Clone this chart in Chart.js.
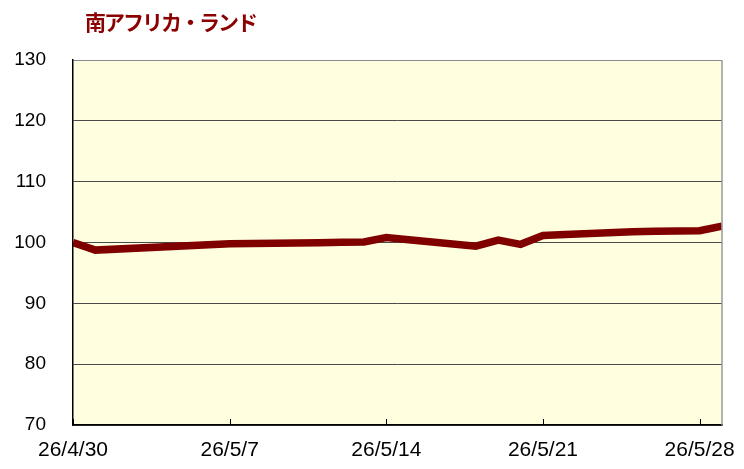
<!DOCTYPE html>
<html>
<head>
<meta charset="utf-8">
<script src="https://cdn.jsdelivr.net/npm/chart.js@4/dist/chart.umd.min.js"></script>
<style>
  html, body { margin: 0; padding: 0; background: #fff; }
  #wrap { position: relative; width: 744px; height: 469px; }
  #title {
    position: absolute; left: 85px; top: 10px;
    font: bold 21px "Noto Sans CJK JP", sans-serif;
    line-height: 22px; letter-spacing: -2px; color: #8b0000;
  }
</style>
</head>
<body>
<div id="wrap">
  <canvas id="chart" width="744" height="469"></canvas>
  <div id="title">南アフリカ・ランド</div>
</div>
<script>
// trading days and index values
const dates = [
  '2026-04-30', '2026-05-01', '2026-05-07', '2026-05-08', '2026-05-11',
  '2026-05-12', '2026-05-13', '2026-05-14', '2026-05-15', '2026-05-18',
  '2026-05-19', '2026-05-20', '2026-05-21', '2026-05-22', '2026-05-25',
  '2026-05-26', '2026-05-27', '2026-05-28', '2026-05-29'
];
const values = [
  100.0, 98.75, 99.8, 99.85, 99.95,
  100.05, 100.1, 100.8, 100.45, 99.4,
  100.4, 99.7, 101.15, 101.3, 101.75,
  101.85, 101.9, 101.95, 102.7
];
const tickLabels = ['26/4/30', '26/5/7', '26/5/14', '26/5/21', '26/5/28'];
const tickDays = [0, 7, 14, 21, 28];
const yTicks = [70, 80, 90, 100, 110, 120, 130];

const DAY = 86400000;
const start = Date.parse(dates[0]);
const points = dates.map((d, i) => ({ x: (Date.parse(d) - start) / DAY, y: values[i] }));

// yellow plot background, grey right edge, small inward ticks on the date axis
const plotFrame = {
  id: 'plotFrame',
  beforeDraw(chart) {
    const { ctx, chartArea: a } = chart;
    ctx.save();
    ctx.fillStyle = '#ffffe0';
    ctx.fillRect(a.left, a.top, a.right - a.left, a.bottom - a.top);
    ctx.restore();
  },
  afterDatasetsDraw(chart) {
    const { ctx, chartArea: a, scales } = chart;
    ctx.save();
    ctx.strokeStyle = '#9a9a9a';
    ctx.lineWidth = 1.5;
    ctx.beginPath();
    ctx.moveTo(a.right, a.top);
    ctx.lineTo(a.right, a.bottom);
    ctx.stroke();
    ctx.strokeStyle = '#000';
    ctx.lineWidth = 1;
    tickDays.forEach(d => {
      const x = Math.round(scales.x.getPixelForValue(d)) + 0.5;
      ctx.beginPath();
      ctx.moveTo(x, a.bottom);
      ctx.lineTo(x, a.bottom - 6);
      ctx.stroke();
    });
    ctx.restore();
  }
};

new Chart(document.getElementById('chart'), {
  type: 'line',
  data: {
    datasets: [{
      data: points,
      borderColor: '#800000',
      borderWidth: 7.5,
      pointRadius: 0,
      tension: 0,
      clip: 0
    }]
  },
  options: {
    responsive: false,
    animation: false,
    layout: { padding: { top: 60, right: 22, bottom: 0, left: 0 } },
    plugins: { legend: { display: false }, tooltip: { enabled: false } },
    scales: {
      x: {
        type: 'linear',
        min: 0,
        max: 29,
        afterBuildTicks: scale => { scale.ticks = tickDays.map(v => ({ value: v })); },
        afterFit: scale => {
          scale.height = 44;
          scale.paddingLeft = 0;
          scale.paddingRight = 0;
        },
        ticks: {
          autoSkip: false,
          maxRotation: 0,
          padding: 13,
          color: '#000',
          font: { family: 'Liberation Sans', size: 21 },
          callback: v => tickLabels[tickDays.indexOf(v)]
        },
        grid: { display: false, drawTicks: false },
        border: { color: '#000', width: 1.5 }
      },
      y: {
        min: 70,
        max: 130,
        afterBuildTicks: scale => { scale.ticks = yTicks.map(v => ({ value: v })); },
        afterFit: scale => { scale.width = 73; },
        ticks: {
          padding: 27,
          color: '#000',
          font: { family: 'Liberation Sans', size: 19 }
        },
        grid: {
          drawTicks: false,
          lineWidth: 1,
          color: ctx => (ctx.tick && ctx.tick.value === 130 ? '#8a8a8a' : '#4a4a4a')
        },
        border: { color: '#000', width: 1.5 }
      }
    }
  },
  plugins: [plotFrame]
});
</script>
</body>
</html>
